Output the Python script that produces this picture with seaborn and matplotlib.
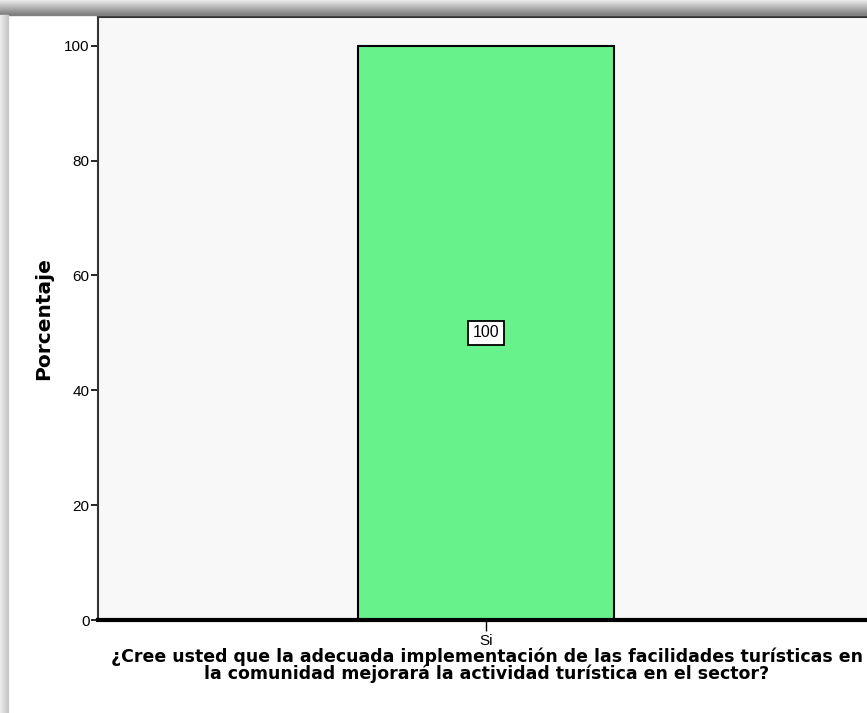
import numpy as np
import pandas as pd
import matplotlib
matplotlib.use("Agg")
import matplotlib.pyplot as plt
from matplotlib.patches import Rectangle
import seaborn as sns

categorias = ["Si"]
porcentajes = [100]
yticks = [0, 20, 40, 60, 80, 100]
titulo = ("¿Cree usted que la adecuada implementación de las facilidades turísticas en\n"
          "la comunidad mejorará la actividad turística en el sector?")

df = pd.DataFrame({"respuesta": categorias, "porcentaje": porcentajes})

sns.set_style("white")
plt.rcParams["font.family"] = ["Liberation Sans", "DejaVu Sans"]

fig = plt.figure(figsize=(8.67, 7.13), dpi=100)
fig.patch.set_facecolor("white")

# shadow frame top / left
for i in range(15):
    g = 0.92 - 0.03 * i
    fig.patches.append(Rectangle((0, 1 - (i + 1) / 713), 1, 1 / 713,
                                 transform=fig.transFigure, color=str(g), zorder=0))
for i in range(8):
    g = 0.93 - 0.02 * i
    fig.patches.append(Rectangle((i / 867, 0), 1 / 867, 1 - 15 / 713,
                                 transform=fig.transFigure, color=str(g), zorder=0))

ax = fig.add_axes([98 / 867, 1 - 620 / 713, 776 / 867, 603 / 713])
ax.set_facecolor("#f8f8f8")

sns.barplot(data=df, x="respuesta", y="porcentaje", color="#67f28b",
            saturation=1, width=0.66, edgecolor="black", linewidth=1.5, ax=ax)

for p, v in zip(ax.patches, porcentajes):
    ax.text(p.get_x() + p.get_width() / 2, v / 2, f"{v}", ha="center", va="center",
            fontsize=11.5, color="black",
            bbox=dict(boxstyle="square,pad=0.3", fc="white", ec="black", lw=1.3))

ax.set_xlim(-1.0, 1.0)
ax.set_ylim(0, 105)
ax.set_yticks(yticks)
ax.set_yticklabels([str(t) for t in yticks], fontsize=11)
ax.tick_params(axis="y", direction="out", length=5, width=1.2, color="black",
               labelcolor="black", pad=1, left=True)
ax.tick_params(axis="x", direction="out", length=8, width=1, color="black",
               labelcolor="black", pad=2, bottom=True, labelsize=11)

for s in ["left", "top"]:
    ax.spines[s].set_color("#333333")
    ax.spines[s].set_linewidth(1.5)
ax.spines["right"].set_visible(False)
ax.spines["bottom"].set_color("black")
ax.spines["bottom"].set_linewidth(3)

ax.set_ylabel("Porcentaje", fontsize=14.5, fontweight="bold", family="DejaVu Sans",
              color="black", labelpad=8)
ax.set_xlabel("")
fig.text(487 / 867, 1 - 665 / 713, titulo, ha="center", va="center", color="black",
         fontsize=12.5, fontweight="bold", family="DejaVu Sans", linespacing=0.9)

fig.savefig("out.png", dpi=100)
